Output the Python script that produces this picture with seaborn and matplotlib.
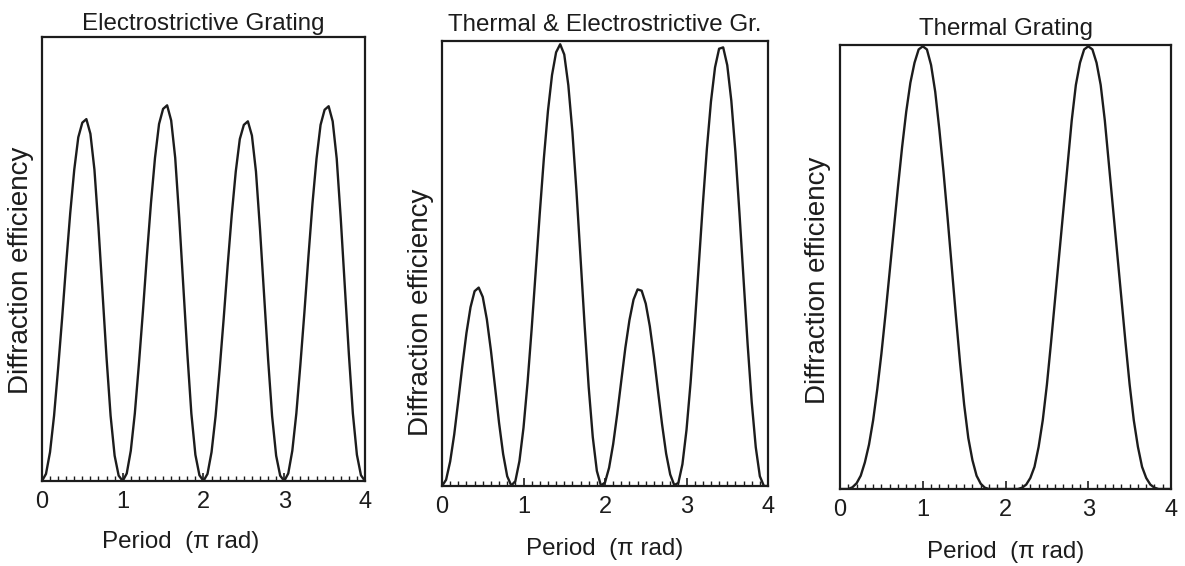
import numpy as np
import pandas as pd
import matplotlib
matplotlib.use("Agg")
import matplotlib.pyplot as plt
from matplotlib.ticker import MultipleLocator
import seaborn as sns

# Sampling grid along the period axis (units of pi rad)
period = np.linspace(0.0, 4.0, 81)

# Diffraction efficiency, electrostrictive grating
electro = [
    0, .016, .065, .147, .253, .367, .489, .603, .701, .774, .807, .815, .782, .701, .571, .424, .277, .147, .057, .012,
    0, .017, .068, .152, .262, .381, .508, .626, .728, .804, .838, .846, .812, .728, .592, .440, .288, .152, .059, .013,
    0, .016, .065, .146, .251, .365, .486, .599, .697, .770, .802, .810, .778, .697, .567, .421, .275, .146, .057, .012,
    0, .017, .068, .152, .262, .380, .506, .625, .726, .802, .836, .844, .810, .726, .591, .439, .287, .152, .059, .013,
    0,
]

# Diffraction efficiency, thermal + electrostrictive grating
combined = [
    0, .014, .055, .116, .192, .271, .344, .402, .438, .446, .425, .375, .305, .224, .142, .072, .022, .001,
    .011, .056, .131, .233, .353, .483, .614, .737, .843, .924, .975, .993, .970, .901, .796, .662, .512, .361,
    .222, .110, .034, .001,
    .008, .041, .094, .162, .237, .311, .373, .419, .442, .439, .410, .359, .291, .214, .139, .073, .026, .002,
    .007, .049, .126, .232, .358, .495, .632, .758, .864, .941, .983, .986, .946, .866, .751, .613, .465, .319,
    .189, .087, .022, 0, 0,
]

# Diffraction efficiency, thermal grating
thermal = [
    0, 0, 0, .004, .013, .03, .06, .10, .155, .225, .305, .395, .49, .585, .68, .77, .85, .915, .96, .99,
    .997, .99, .955, .895, .81, .715, .61, .50, .39, .285, .19, .115, .065, .03, .012, .003, 0, 0, 0, 0,
    0, 0, 0, 0, .003, .01, .025, .05, .095, .155, .235, .33, .43, .53, .63, .73, .83, .91, .96, .99,
    .997, .99, .96, .91, .83, .73, .63, .53, .43, .33, .235, .155, .095, .05, .025, .01, .003, 0, 0, 0,
    0,
]

titles = ["Electrostrictive Grating", "Thermal & Electrostrictive Gr.", "Thermal Grating"]
series = [electro, combined, thermal]
xticks = [0, 1, 2, 3, 4]
xlabel = "Period  (\u03c0 rad)"
ylabel = "Diffraction efficiency"

sns.set_style("white")
plt.rcParams["font.family"] = ["Liberation Sans", "DejaVu Sans"]

ink = "#1c1c1c"
fig = plt.figure(figsize=(11.85, 5.66), dpi=100)

# axes rectangles: left, bottom, width, height (figure fraction)
rects = [
    [0.0354, 0.1502, 0.2726, 0.7845],
    [0.3730, 0.1413, 0.2751, 0.7860],
    [0.7089, 0.1360, 0.2793, 0.7845],
]
ylabel_pos = [(-0.066, 0.475), (-0.064, 0.39), (-0.066, 0.47)]
xlabel_pos = [(0.43, -0.113), (0.50, -0.117), (0.50, -0.117)]
title_pad = [5, 7, 7]

for rect, title, vals, ylp, xlp, tp in zip(rects, titles, series, ylabel_pos, xlabel_pos, title_pad):
    ax = fig.add_axes(rect)
    df = pd.DataFrame({"period": period, "efficiency": vals})
    sns.lineplot(data=df, x="period", y="efficiency", ax=ax, color=ink,
                 linewidth=1.7, estimator=None, sort=True,
                 solid_joinstyle="round", solid_capstyle="round")
    ax.set_xlim(0, 4)
    ax.set_ylim(0, 1.0)
    ax.set_xticks(xticks)
    ax.set_xticklabels([str(t) for t in xticks])
    ax.xaxis.set_minor_locator(MultipleLocator(0.1))
    ax.set_yticks([])
    ax.tick_params(axis="x", which="major", direction="in", length=6, width=1.2,
                   color=ink, labelsize=17, labelcolor=ink, pad=7, bottom=True, top=False)
    ax.tick_params(axis="x", which="minor", direction="in", length=3.5, width=1.0,
                   color=ink, bottom=True, top=False)
    for sp in ax.spines.values():
        sp.set_visible(True)
        sp.set_color(ink)
        sp.set_linewidth(1.6)
    ax.set_title(title, fontsize=17.4, color=ink, pad=tp)
    ax.set_xlabel(xlabel, fontsize=17.4, color=ink)
    ax.xaxis.set_label_coords(*xlp)
    ax.set_ylabel(ylabel, fontsize=20, color=ink)
    ax.yaxis.set_label_coords(*ylp)
    ax.yaxis.label.set_verticalalignment("center")

fig.savefig("out.png", dpi=100, facecolor="white")
